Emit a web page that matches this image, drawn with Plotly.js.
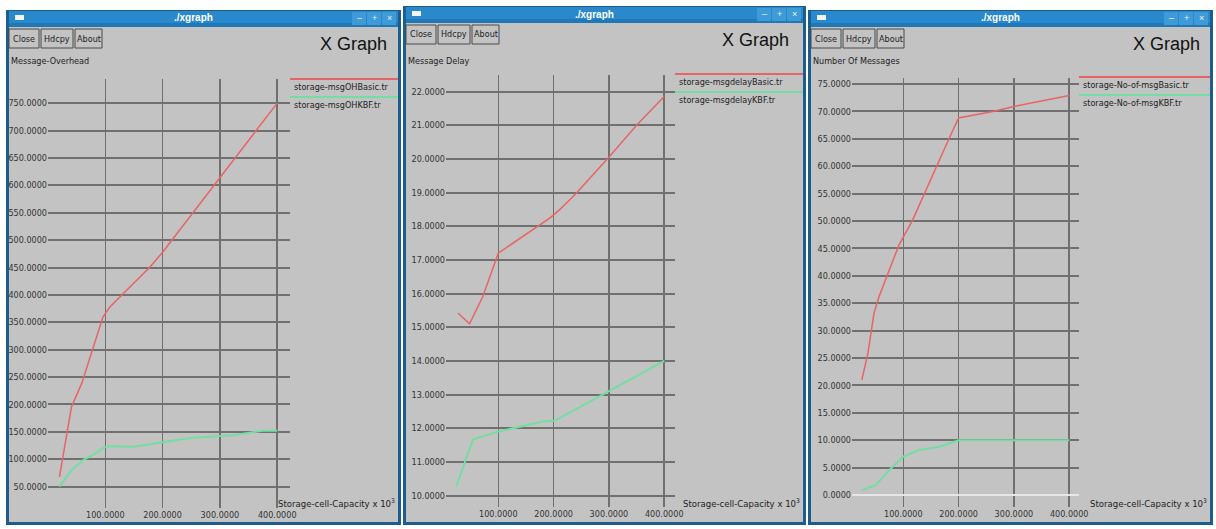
<!DOCTYPE html>
<html>
<head>
<meta charset="utf-8">
<script src="https://cdn.plot.ly/plotly-3.0.1.min.js"></script>
<style>
  html, body { margin: 0; padding: 0; background: #ffffff; }
  #chart { width: 1216px; height: 529px; }
</style>
</head>
<body>
<div id="chart"></div>
<script>
// ---- data: storage-cell capacity (x 10^3) versus each metric ----
const overheadBasicX = [20, 27, 41, 59, 79, 96, 108, 137, 178, 200, 300, 400];
const overheadBasicY = [68, 111, 196, 239, 305, 360, 378, 409, 451, 478, 615, 750];
const overheadKbfX   = [20, 41, 62, 79, 97, 108, 149, 200, 248, 283, 323, 375, 400];
const overheadKbfY   = [50, 80, 99, 108, 121, 124, 123, 131, 139, 141, 144, 152, 152];

const delayBasicX = [27, 48, 72, 100, 193, 211, 241, 301, 350, 400];
const delayBasicY = [15.42, 15.1, 15.91, 17.2, 18.24, 18.49, 18.98, 20.07, 21.0, 21.85];
const delayKbfX   = [24, 54, 100, 127, 181, 202, 301, 400];
const delayKbfY   = [10.27, 11.66, 11.9, 12.0, 12.2, 12.22, 13.1, 14.0];

const msgsBasicX = [25, 36, 47, 56, 92, 117, 183, 200, 262, 300, 400];
const msgsBasicY = [21, 25.9, 33.2, 36.2, 45.6, 50.2, 65.1, 68.8, 70.0, 70.9, 72.9];
const msgsKbfX   = [25, 50, 78, 100, 128, 165, 200, 300, 400];
const msgsKbfY   = [0.9, 1.8, 4.9, 7.0, 8.2, 8.8, 10, 10, 10];

const xTicks = [100, 200, 300, 400];
const yTitles = ['Message-Overhead', 'Message Delay', 'Number Of Messages'];
const basicNames = ['storage-msgOHBasic.tr', 'storage-msgdelayBasic.tr', 'storage-No-of-msgBasic.tr'];
const kbfNames   = ['storage-msgOHKBF.tr', 'storage-msgdelayKBF.tr', 'storage-No-of-msgKBF.tr'];
const xTitle = 'Storage-cell-Capacity x 10<sup>3</sup>';
const windowTitle = './xgraph';
const graphLabel = 'X Graph';
const buttonLabels = ['Close', 'Hdcpy', 'About'];

// ---- page geometry (pixels) ----
const W = 1216, H = 529;
const fx = p => p / W;
const fy = p => 1 - p / H;

const RED = '#e86464';
const GREEN = '#72dea2';
const GRID = '#707070';
const FACE = '#c3c3c3';
const FRAME = '#1c5d8e';
const BAR = '#2a88cc';
const NARROW = '"Liberation Sans Narrow", "DejaVu Sans Condensed", "Liberation Sans", sans-serif';
const SANS = '"Liberation Sans", Arial, sans-serif';

// window frames, plot boxes and legend anchors
const wins = [
  { l: 6,   r: 401,  t: 10, b: 525, plot: [48, 290, 79, 508],  legX: 290, legY: 79, graphX: 353,  yr: [11.1, 794],   dy: 50, xr: [0, 422.3] },
  { l: 403, r: 806,  t: 6,  b: 525, plot: [446, 675, 75, 507], legX: 675, legY: 74, graphX: 755,  yr: [9.66, 22.49], dy: 1,  xr: [5.4, 419.5] },
  { l: 808, r: 1213, t: 10, b: 525, plot: [852, 1079, 78, 507], legX: 1079, legY: 77, graphX: 1166, yr: [-2.19, 76.1], dy: 5, xr: [7.2, 417.7] }
];

const series = [
  [overheadBasicX, overheadBasicY, overheadKbfX, overheadKbfY],
  [delayBasicX, delayBasicY, delayKbfX, delayKbfY],
  [msgsBasicX, msgsBasicY, msgsKbfX, msgsKbfY]
];

const shapes = [];
const annotations = [];
const traces = [];
const layout = {
  width: W, height: H,
  margin: { l: 0, r: 0, t: 0, b: 0, pad: 0 },
  paper_bgcolor: '#ffffff',
  plot_bgcolor: 'rgba(0,0,0,0)',
  showlegend: false,
  shapes: shapes,
  annotations: annotations
};

function rect(l, t, r, b, fill, line, lw) {
  shapes.push({
    type: 'rect', xref: 'paper', yref: 'paper', layer: 'below',
    x0: fx(l), x1: fx(r), y0: fy(b), y1: fy(t),
    fillcolor: fill,
    line: { color: line || fill, width: lw || 0 }
  });
}
function hline(x0, x1, y, color, w) {
  shapes.push({
    type: 'line', xref: 'paper', yref: 'paper', layer: 'above',
    x0: fx(x0), x1: fx(x1), y0: fy(y), y1: fy(y),
    line: { color: color, width: w }
  });
}
function text(x, y, s, size, color, xanchor, family, weight) {
  annotations.push({
    xref: 'paper', yref: 'paper', x: fx(x), y: fy(y),
    text: s, showarrow: false, xanchor: xanchor || 'left', yanchor: 'middle',
    font: { size: size, color: color, family: family || NARROW, weight: weight || 'normal' }
  });
}

wins.forEach((w, i) => {
  // window frame, title bar and client area
  rect(w.l, w.t, w.r, w.b, FRAME);
  rect(w.l + 3, w.t + 1, w.r - 3, w.t + 17, BAR);
  rect(w.l + 3, w.t + 13, w.r - 3, w.t + 17, '#1f78b8');
  rect(w.l + 3, w.t + 17, w.r - 3, w.b - 3, FACE);
  // window menu icon
  rect(w.l + 9, w.t + 5, w.l + 18, w.t + 10, '#f4f4f4');
  text((w.l + w.r) / 2 - 10, w.t + 8, windowTitle, 10, '#ffffff', 'center', SANS, 'bold');
  // minimise / maximise / close boxes
  const glyphs = ['–', '+', '×'];
  for (let k = 0; k < 3; k++) {
    const bx = w.r - 49 + k * 15;
    rect(bx, w.t + 2, bx + 14, w.t + 15, '#3f9ad8');
    text(bx + 7, w.t + 8, glyphs[k], 9, '#e8f2fa', 'center', SANS);
  }
  // Close / Hdcpy / About buttons
  const bw = [30, 32, 27];
  let bx = w.l + 3;
  buttonLabels.forEach((lab, k) => {
    rect(bx, w.t + 19, bx + bw[k], w.t + 38, FACE, '#4a4a4a', 1);
    text(bx + bw[k] / 2, w.t + 28.5, lab, 9, '#222222', 'center');
    bx += bw[k] + 2;
  });
  // big label and y title
  text(w.graphX, w.t + 34, graphLabel, 18, '#111111', 'center', SANS);
  text(w.l + 3, 61, yTitles[i], 9, '#222222', 'left');
  // legend: colour bar with the file name underneath
  hline(w.legX, w.r - 3, w.legY, RED, 2);
  text(w.legX + 2, w.legY + 8, basicNames[i], 9, '#222222', 'left');
  hline(w.legX, w.r - 3, w.legY + 18, GREEN, 2);
  text(w.legX + 2, w.legY + 26, kbfNames[i], 9, '#222222', 'left');
  // x-axis title
  text(w.r - 4, 503, xTitle, 9.5, '#222222', 'right');

  // axes
  const sfx = i === 0 ? '' : String(i + 1);
  const p = w.plot;
  layout['xaxis' + sfx] = {
    domain: [fx(p[0]), fx(p[1])],
    range: w.xr,
    anchor: 'y' + sfx,
    tickvals: xTicks,
    tickformat: '.4f',
    showgrid: true, gridcolor: GRID, gridwidth: 1.5,
    zeroline: false, showline: false, ticks: '',
    tickfont: { size: 9, color: '#333333', family: NARROW }
  };
  layout['yaxis' + sfx] = {
    domain: [fy(p[3]), fy(p[2])],
    range: w.yr,
    anchor: 'x' + sfx,
    dtick: w.dy, tick0: 0,
    tickformat: '.4f',
    showgrid: true, gridcolor: GRID, gridwidth: 2,
    zeroline: i === 2, zerolinecolor: '#e6e6e6', zerolinewidth: 2,
    showline: false, ticks: '',
    tickfont: { size: 9, color: '#333333', family: NARROW }
  };

  const s = series[i];
  traces.push({
    type: 'scatter', mode: 'lines', x: s[0], y: s[1],
    xaxis: 'x' + sfx, yaxis: 'y' + sfx, name: basicNames[i],
    line: { color: RED, width: 1.5 }, hoverinfo: 'skip'
  });
  traces.push({
    type: 'scatter', mode: 'lines', x: s[2], y: s[3],
    xaxis: 'x' + sfx, yaxis: 'y' + sfx, name: kbfNames[i],
    line: { color: GREEN, width: 2 }, hoverinfo: 'skip'
  });
});

Plotly.newPlot('chart', traces, layout, { displayModeBar: false, staticPlot: true });
</script>
</body>
</html>
